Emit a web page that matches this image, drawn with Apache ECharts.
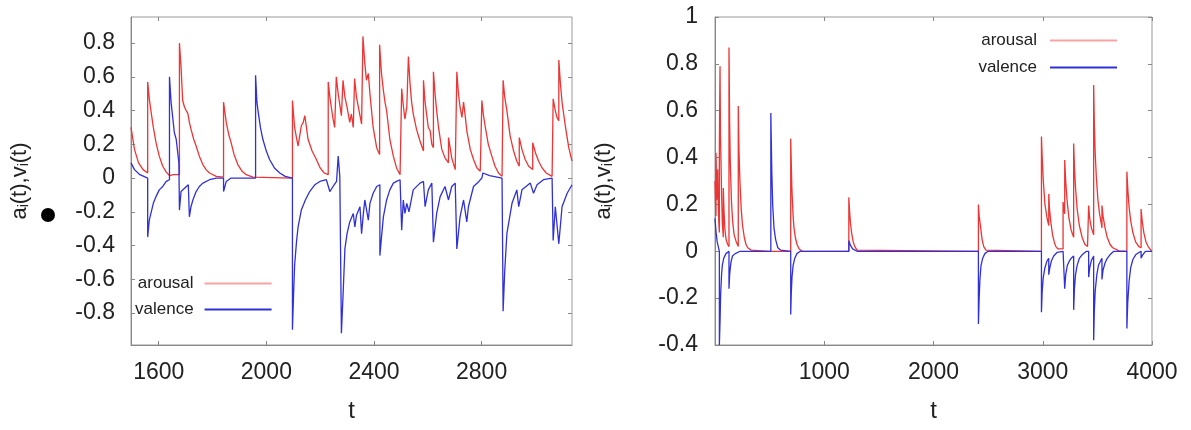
<!DOCTYPE html>
<html>
<head>
<meta charset="utf-8">
<script src="https://cdn.jsdelivr.net/npm/echarts@6/dist/echarts.min.js"></script>
<style>html,body{margin:0;padding:0;background:#fff;}#c{width:1191px;height:430px;}</style>
</head>
<body>
<div id="c"></div>
<script>
// ---------- data ----------
const seriesNames = ['arousal', 'valence'];
const leftXTicks = [1600, 2000, 2400, 2800];
const leftYTicks = [-0.8, -0.6, -0.4, -0.2, 0, 0.2, 0.4, 0.6, 0.8];
const rightXTicks = [1000, 2000, 3000, 4000];

// left panel, arousal a_i(t)
const leftArousal = [
[1497,0.30],[1510,0.17],[1525,0.09],[1542,0.05],[1559,0.03],
[1559,0.57],[1565,0.47],[1571,0.40],[1580,0.30],[1590,0.21],[1602,0.13],[1615,0.07],[1628,0.035],[1640,0.015],
[1655,0.02],[1677,0.02],
[1677,0.80],[1683,0.66],[1689,0.46],[1696,0.42],[1702,0.40],[1708,0.385],[1714,0.33],[1720,0.29],[1730,0.23],[1739,0.19],[1751,0.13],[1764,0.08],[1776,0.05],[1789,0.03],[1814,0.01],[1841,0.006],
[1841,0.45],[1846,0.39],[1851,0.33],[1860,0.26],[1869,0.21],[1880,0.14],[1894,0.08],[1910,0.04],[1925,0.02],[1950,0.006],[2097,0.0],
[2097,0.46],[2101,0.38],[2105,0.30],[2112,0.24],[2118,0.19],[2124,0.25],[2130,0.31],[2137,0.33],[2143,0.37],[2149,0.30],[2155,0.23],[2170,0.16],[2186,0.11],[2200,0.06],[2215,0.03],[2230,0.02],
[2230,0.57],[2236,0.48],[2248,0.35],[2254,0.30],
[2260,0.60],[2267,0.50],[2279,0.37],
[2285,0.58],[2292,0.48],[2300,0.42],[2310,0.33],[2316,0.38],[2323,0.30],
[2328,0.59],[2335,0.48],[2348,0.37],[2354,0.32],
[2359,0.84],[2366,0.68],[2372,0.58],[2379,0.62],[2385,0.50],[2397,0.30],[2410,0.18],
[2421,0.14],[2421,0.79],[2428,0.62],[2435,0.52],[2441,0.45],[2447,0.40],[2459,0.23],[2472,0.13],[2484,0.06],[2497,0.02],
[2503,0.02],[2503,0.53],[2509,0.43],[2515,0.35],[2522,0.42],[2528,0.72],[2534,0.56],[2540,0.45],[2546,0.38],[2558,0.29],[2571,0.22],[2584,0.16],
[2584,0.58],[2590,0.45],[2602,0.30],[2609,0.28],[2615,0.20],[2621,0.18],
[2621,0.63],[2627,0.50],[2633,0.40],[2640,0.30],[2652,0.17],[2664,0.12],[2677,0.09],
[2677,0.24],[2683,0.18],[2689,0.12],[2702,0.05],
[2708,0.05],[2708,0.63],[2714,0.50],[2720,0.42],[2727,0.36],[2733,0.45],[2739,0.37],[2745,0.28],[2758,0.17],[2770,0.11],[2783,0.06],[2795,0.04],
[2801,0.04],[2801,0.46],[2807,0.37],[2813,0.31],[2825,0.20],[2838,0.13],[2850,0.07],[2863,0.03],[2876,0.01],
[2880,0.01],[2880,0.58],[2886,0.48],[2894,0.40],[2906,0.25],[2919,0.16],[2931,0.10],[2940,0.07],
[2940,0.24],[2950,0.17],[2962,0.11],[2975,0.07],[2990,0.05],
[2990,0.21],[3000,0.15],[3012,0.10],[3025,0.06],[3040,0.03],[3062,0.01],
[3066,0.01],[3066,0.47],[3074,0.40],[3080,0.36],[3087,0.34],[3087,0.70],[3093,0.56],[3099,0.45],[3105,0.38],[3112,0.30],[3118,0.24],[3124,0.18],[3130,0.14],[3136,0.10]
];

// left panel, valence v_i(t)
const leftValence = [
[1497,0.09],[1510,0.05],[1530,0.02],[1559,0.0],
[1559,-0.35],[1565,-0.25],[1571,-0.21],[1580,-0.15],[1590,-0.11],[1602,-0.07],[1615,-0.05],[1628,-0.02],[1640,-0.01],
[1640,0.60],[1646,0.45],[1652,0.36],[1658,0.27],[1665,0.23],[1675,0.09],
[1677,-0.19],[1683,-0.08],[1696,-0.06],[1710,-0.04],
[1714,-0.23],[1720,-0.17],[1727,-0.13],[1739,-0.08],[1751,-0.05],[1764,-0.03],[1789,-0.01],[1814,0],[1841,0],
[1841,-0.08],[1851,-0.02],[1869,0],[1960,0],
[1960,0.61],[1965,0.45],[1969,0.40],[1978,0.30],[1987,0.23],[2000,0.16],[2012,0.11],[2030,0.06],[2050,0.03],[2070,0.01],[2097,0],
[2097,-0.90],[2101,-0.70],[2105,-0.52],[2112,-0.38],[2118,-0.29],[2130,-0.19],[2145,-0.13],[2161,-0.08],[2180,-0.04],[2199,-0.02],[2223,-0.01],
[2236,-0.08],[2248,-0.05],[2261,-0.02],[2267,0.13],[2273,0.01],
[2279,-0.92],[2285,-0.70],[2292,-0.42],[2300,-0.33],[2310,-0.26],[2323,-0.21],[2329,-0.29],[2335,-0.22],[2348,-0.17],[2354,-0.33],[2360,-0.22],[2366,-0.13],[2379,-0.25],[2385,-0.15],[2397,-0.09],[2410,-0.05],[2422,-0.04],
[2422,-0.46],[2428,-0.35],[2435,-0.23],[2447,-0.13],[2459,-0.07],[2472,-0.03],[2484,-0.02],[2497,-0.01],
[2503,-0.31],[2509,-0.13],[2515,-0.21],[2522,-0.15],[2530,-0.20],[2546,-0.07],[2571,-0.03],[2584,-0.02],
[2590,-0.17],[2602,-0.07],[2615,-0.03],
[2621,-0.38],[2633,-0.21],[2646,-0.11],[2664,-0.05],[2677,-0.13],[2689,-0.05],[2702,-0.03],
[2708,-0.42],[2720,-0.23],[2733,-0.13],[2745,-0.26],[2751,-0.17],[2770,-0.05],[2790,-0.02],[2801,0.0],[2805,0.03],[2830,0.015],[2876,0.0],
[2880,-0.79],[2886,-0.55],[2894,-0.33],[2913,-0.15],[2931,-0.07],[2938,-0.17],[2950,-0.07],[2981,-0.03],[2993,-0.09],[3006,-0.04],[3030,-0.01],[3062,0.0],
[3066,-0.37],[3074,-0.17],[3087,-0.39],[3099,-0.17],[3118,-0.09],[3136,-0.04]
];

// right panel, arousal a_i(t)
const rightArousal = [
[0,0.30],[5,0.20],[9,0.15],[9,0.42],[14,0.30],[20,0.22],[25,0.35],[30,0.20],[35,0.12],[40,0.08],[40,0.45],[46,0.79],[50,0.50],[55,0.38],[60,0.25],[67,0.12],[76,0.06],[76,0.27],[82,0.18],[91,0.09],[102,0.05],[115,0.03],[128,0.02],
[128,0.87],[134,0.55],[140,0.38],[150,0.22],[161,0.13],[175,0.07],[195,0.04],[213,0.02],
[213,0.62],[220,0.42],[228,0.30],[240,0.18],[252,0.11],[268,0.06],[283,0.03],[300,0.015],[330,0.005],[500,0],[693,0],
[693,0.48],[698,0.38],[703,0.28],[708,0.22],[715,0.15],[723,0.10],[735,0.06],[750,0.03],[770,0.01],[800,0],[1225,0],
[1225,0.23],[1232,0.17],[1240,0.12],[1250,0.08],[1265,0.04],[1280,0.02],[1300,0.005],[2411,0],
[2411,0.20],[2418,0.15],[2432,0.10],[2445,0.05],[2460,0.02],[2480,0.005],[2988,0],
[2988,0.49],[2995,0.40],[3005,0.30],[3020,0.20],[3040,0.14],[3055,0.11],[3055,0.245],[3062,0.18],[3075,0.12],[3090,0.07],[3105,0.04],[3120,0.02],[3140,0.01],
[3186,0.01],[3186,0.21],[3195,0.18],[3201,0.16],[3201,0.39],[3210,0.30],[3222,0.22],[3240,0.14],[3260,0.09],[3283,0.06],[3283,0.46],[3290,0.36],[3300,0.27],[3315,0.18],[3335,0.11],[3360,0.06],[3385,0.03],[3410,0.02],[3420,0.015],
[3420,0.195],[3430,0.14],[3445,0.10],[3466,0.07],[3466,0.71],[3472,0.55],[3480,0.42],[3490,0.32],[3505,0.22],[3520,0.16],[3535,0.12],[3542,0.10],[3542,0.195],[3552,0.15],[3570,0.10],[3590,0.06],[3615,0.03],[3640,0.015],[3700,0.002],[3770,0],
[3770,0.34],[3778,0.27],[3790,0.19],[3805,0.13],[3825,0.08],[3850,0.04],[3880,0.02],[3900,0.015],[3900,0.18],[3910,0.13],[3925,0.08],[3945,0.04],[3965,0.02],[3990,0.005],[4000,0]
];

// right panel, valence v_i(t)
const rightValence = [
[0,0.14],[10,0.08],[20,0.04],[30,0.02],[40,0],
[40,-0.40],[46,-0.30],[52,-0.18],[60,-0.10],[67,-0.06],[80,-0.03],[100,-0.01],[128,0],
[128,-0.16],[134,-0.10],[145,-0.05],[160,-0.02],[185,-0.01],[230,0],[511,0],
[511,0.59],[515,0.48],[520,0.34],[528,0.20],[540,0.10],[555,0.05],[575,0.015],[600,0.005],[693,0],
[693,-0.27],[698,-0.18],[705,-0.11],[715,-0.06],[730,-0.03],[750,-0.01],[780,0],[1225,0],
[1225,0.045],[1240,0.025],[1260,0.01],[1300,0],[2411,0],
[2411,-0.31],[2418,-0.20],[2425,-0.12],[2435,-0.06],[2450,-0.03],[2470,-0.01],[2500,0],[2988,0],
[2988,-0.26],[2995,-0.17],[3005,-0.11],[3020,-0.07],[3040,-0.04],[3055,-0.03],[3055,-0.10],[3065,-0.07],[3080,-0.04],[3100,-0.02],[3130,-0.005],[3186,0],
[3201,-0.16],[3210,-0.10],[3225,-0.06],[3245,-0.04],[3260,-0.03],[3283,-0.02],[3283,-0.25],[3290,-0.16],[3300,-0.10],[3315,-0.06],[3335,-0.03],[3360,-0.015],[3400,0],[3420,0],
[3420,-0.11],[3430,-0.07],[3445,-0.04],[3466,-0.02],[3466,-0.38],[3472,-0.26],[3480,-0.17],[3495,-0.10],[3510,-0.06],[3530,-0.04],[3542,-0.03],[3542,-0.12],[3552,-0.08],[3570,-0.05],[3590,-0.03],[3615,-0.015],[3650,0],[3770,0],
[3770,-0.33],[3778,-0.22],[3790,-0.13],[3805,-0.07],[3825,-0.035],[3850,-0.015],[3880,-0.005],[3900,0],[3900,-0.03],[3915,-0.015],[3940,0],[4000,0]
];

// ---------- chart ----------
const FONT = '"Liberation Sans", Arial, sans-serif';
const RED = '#ee3434', BLUE = '#3030d8';
const chart = echarts.init(document.getElementById('c'), null, {renderer: 'canvas'});

const yName = '{a|a}{s|i}{a|(t),v}{s|i}{a|(t)}';
const yNameStyle = {
  fontFamily: FONT, color: '#222',
  rich: {
    a: {fontSize: 22, fontFamily: FONT, color: '#222', verticalAlign: 'bottom', lineHeight: 28},
    s: {fontSize: 14, fontFamily: FONT, color: '#222', verticalAlign: 'bottom', lineHeight: 22}
  }
};
const labelStyle = {fontSize: 23, fontFamily: FONT, color: '#222'};
const lineAxis = {show: true, onZero: false, lineStyle: {color: '#888', width: 1}};
const plain = v => String(Math.round(v * 10) / 10);

function xMain(grid, min, max, ticks) {
  return {
    type: 'value', gridIndex: grid, min: min, max: max,
    name: 't', nameLocation: 'middle', nameGap: 54,
    nameTextStyle: {fontSize: 24, fontFamily: FONT, color: '#222'},
    axisLine: lineAxis,
    axisTick: {show: true, inside: true, length: 4, lineStyle: {color: '#888'}, customValues: ticks},
    axisLabel: Object.assign({margin: 16, customValues: ticks, formatter: plain}, labelStyle),
    splitLine: {show: false}
  };
}
function xMirror(grid, min, max, ticks) {
  return {
    type: 'value', gridIndex: grid, min: min, max: max, position: 'top',
    axisLine: {show: false, onZero: false},
    axisTick: {show: true, inside: true, length: 4, lineStyle: {color: '#888'}, customValues: ticks},
    axisLabel: {show: false}, splitLine: {show: false}
  };
}

const option = {
  animation: false,
  backgroundColor: '#fff',
  grid: [
    {left: 131, right: 619, top: 17, bottom: 85, show: true, borderColor: '#999', borderWidth: 1},
    {left: 715, right: 39, top: 17, bottom: 85, show: true, borderColor: '#999', borderWidth: 1}
  ],
  xAxis: [
    xMain(0, 1497, 3136, leftXTicks),
    xMain(1, 0, 4000, rightXTicks),
    xMirror(0, 1497, 3136, leftXTicks),
    xMirror(1, 0, 4000, rightXTicks)
  ],
  yAxis: [
    {
      type: 'value', gridIndex: 0, min: -0.99, max: 0.955,
      name: yName, nameLocation: 'middle', nameGap: 100, nameRotate: 90, nameTextStyle: yNameStyle,
      axisLine: lineAxis,
      axisTick: {show: true, inside: true, length: 4, lineStyle: {color: '#888'}, customValues: leftYTicks},
      axisLabel: Object.assign({margin: 16, customValues: leftYTicks, formatter: plain}, labelStyle),
      splitLine: {show: false}
    },
    {
      type: 'value', gridIndex: 1, min: -0.4, max: 1, interval: 0.2,
      name: yName, nameLocation: 'middle', nameGap: 100, nameRotate: 90, nameTextStyle: yNameStyle,
      axisLine: lineAxis,
      axisTick: {show: true, inside: true, length: 4, lineStyle: {color: '#888'}},
      axisLabel: Object.assign({margin: 17, formatter: plain}, labelStyle),
      splitLine: {show: false}
    },
    {
      type: 'value', gridIndex: 0, min: -0.99, max: 0.955, position: 'right',
      axisLine: {show: false, onZero: false},
      axisTick: {show: true, inside: true, length: 4, lineStyle: {color: '#888'}, customValues: leftYTicks},
      axisLabel: {show: false}, splitLine: {show: false}
    },
    {
      type: 'value', gridIndex: 1, min: -0.4, max: 1, interval: 0.2, position: 'right',
      axisLine: {show: false, onZero: false},
      axisTick: {show: true, inside: true, length: 4, lineStyle: {color: '#888'}},
      axisLabel: {show: false}, splitLine: {show: false}
    }
  ],
  legend: [
    {
      orient: 'vertical', left: 130, top: 270, align: 'right', itemGap: 9,
      itemWidth: 67, itemHeight: 2, icon: 'rect',
      textStyle: {fontSize: 17, fontFamily: FONT, color: '#222', padding: [0, 6, 0, 0]},
      data: [{name: seriesNames[0], itemStyle: {opacity: 0.45}}, {name: seriesNames[1]}]
    },
    {
      orient: 'vertical', right: 69, top: 27, align: 'right', itemGap: 10,
      itemWidth: 67, itemHeight: 2, icon: 'rect',
      textStyle: {fontSize: 17, fontFamily: FONT, color: '#222', padding: [0, 8, 0, 0]},
      data: [{name: seriesNames[0], itemStyle: {opacity: 0.45}}, {name: seriesNames[1]}]
    }
  ],
  series: [
    {name: seriesNames[0], type: 'line', xAxisIndex: 0, yAxisIndex: 0, data: leftArousal, showSymbol: false, color: RED, lineStyle: {width: 1.3, color: RED}},
    {name: seriesNames[1], type: 'line', xAxisIndex: 0, yAxisIndex: 0, data: leftValence, showSymbol: false, color: BLUE, lineStyle: {width: 1.3, color: BLUE}},
    {name: seriesNames[0], type: 'line', xAxisIndex: 1, yAxisIndex: 1, data: rightArousal, showSymbol: false, color: RED, lineStyle: {width: 1.3, color: RED}},
    {name: seriesNames[1], type: 'line', xAxisIndex: 1, yAxisIndex: 1, data: rightValence, showSymbol: false, color: BLUE, lineStyle: {width: 1.3, color: BLUE}}
  ],
  graphic: [
    {type: 'circle', shape: {cx: 48, cy: 215, r: 7}, style: {fill: '#000'}}
  ]
};
chart.setOption(option);
</script>
</body>
</html>
